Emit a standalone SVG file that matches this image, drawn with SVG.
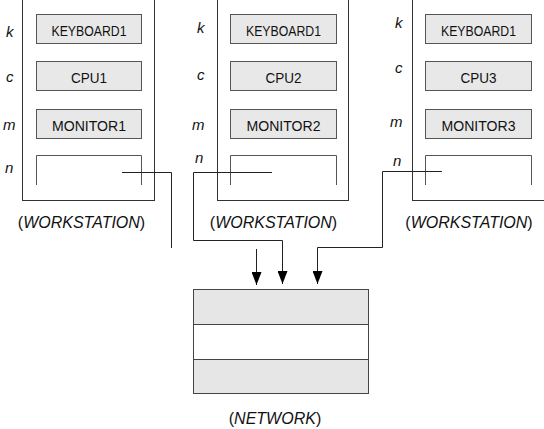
<svg xmlns="http://www.w3.org/2000/svg" width="544" height="429" viewBox="0 0 544 429">
<style>
.outer{fill:none;stroke:#333;stroke-width:1}
.box{fill:#e8e8e8;stroke:#555;stroke-width:1}
.slot{fill:none;stroke:#555;stroke-width:1}
.var{font-family:"Liberation Sans",Arial,sans-serif;font-style:italic;font-size:15px;fill:#111}
.lbl{font-family:"Liberation Sans",Arial,sans-serif;font-size:14px;fill:#111;text-anchor:middle}
.cap{font-family:"Liberation Sans",Arial,sans-serif;font-size:16px;fill:#111;text-anchor:middle}
.it{font-style:italic}
.conn{fill:none;stroke:#222;stroke-width:1}
.band{fill:#e6e6e6;stroke:#444;stroke-width:1}
.bandw{fill:#fff;stroke:#444;stroke-width:1}
</style>
<defs>
<marker id="ah" markerUnits="userSpaceOnUse" markerWidth="13" markerHeight="10" refX="13" refY="5" orient="auto" viewBox="0 0 13 10">
<path d="M0,0 L13,5 L0,10 Z" fill="#000"/>
</marker>
</defs>
<rect width="544" height="429" fill="#fff"/>

<g id="ws1">
<rect class="outer" x="22.5" y="-5" width="132" height="205.5"/>
<text class="var" x="6" y="37">k</text>
<text class="var" x="6" y="82">c</text>
<text class="var" x="3" y="130">m</text>
<text class="var" x="5" y="173">n</text>
<rect class="box" x="36.5" y="14.5" width="105" height="29"/>
<text class="lbl" x="89" y="36" textLength="75" lengthAdjust="spacingAndGlyphs">KEYBOARD1</text>
<rect class="box" x="36.5" y="61.5" width="105" height="29"/>
<text class="lbl" x="89" y="83" textLength="36" lengthAdjust="spacingAndGlyphs">CPU1</text>
<rect class="box" x="36.5" y="109.5" width="105" height="29"/>
<text class="lbl" x="89" y="131" textLength="74" lengthAdjust="spacingAndGlyphs">MONITOR1</text>
<path class="slot" d="M36.5 185 V155.5 H141.5 V185"/>
<text class="cap" x="81.5" y="228">(<tspan class="it">WORKSTATION</tspan>)</text>
</g>

<g id="ws2">
<rect class="outer" x="217.5" y="-5" width="131" height="205.5"/>
<text class="var" x="197" y="33">k</text>
<text class="var" x="197" y="80">c</text>
<text class="var" x="192" y="130">m</text>
<text class="var" x="195" y="163">n</text>
<rect class="box" x="230.5" y="14.5" width="106" height="29"/>
<text class="lbl" x="283.5" y="36" textLength="75" lengthAdjust="spacingAndGlyphs">KEYBOARD1</text>
<rect class="box" x="230.5" y="61.5" width="106" height="29"/>
<text class="lbl" x="283.5" y="83" textLength="36" lengthAdjust="spacingAndGlyphs">CPU2</text>
<rect class="box" x="230.5" y="109.5" width="106" height="29"/>
<text class="lbl" x="283.5" y="131" textLength="74" lengthAdjust="spacingAndGlyphs">MONITOR2</text>
<path class="slot" d="M230.5 185 V155.5 H336.5 V185"/>
<text class="cap" x="273.5" y="228">(<tspan class="it">WORKSTATION</tspan>)</text>
</g>

<g id="ws3">
<rect class="outer" x="412.5" y="-5" width="140" height="205.5"/>
<text class="var" x="395" y="28">k</text>
<text class="var" x="395" y="73">c</text>
<text class="var" x="390" y="127">m</text>
<text class="var" x="393" y="166">n</text>
<rect class="box" x="425.5" y="14.5" width="106" height="29"/>
<text class="lbl" x="478.5" y="36" textLength="75" lengthAdjust="spacingAndGlyphs">KEYBOARD1</text>
<rect class="box" x="425.5" y="61.5" width="106" height="29"/>
<text class="lbl" x="478.5" y="83" textLength="36" lengthAdjust="spacingAndGlyphs">CPU3</text>
<rect class="box" x="425.5" y="109.5" width="106" height="29"/>
<text class="lbl" x="478.5" y="131" textLength="74" lengthAdjust="spacingAndGlyphs">MONITOR3</text>
<path class="slot" d="M425.5 185 V155.5 H531.5 V185"/>
<text class="cap" x="469" y="228">(<tspan class="it">WORKSTATION</tspan>)</text>
</g>

<g id="network">
<rect class="band" x="193.5" y="289.5" width="175" height="35"/>
<rect class="bandw" x="193.5" y="324.5" width="175" height="35"/>
<rect class="band" x="193.5" y="359.5" width="175" height="34"/>
<text class="cap" x="275" y="424">(<tspan class="it">NETWORK</tspan>)</text>
</g>

<g id="connectors">
<path class="conn" d="M122 172.5 H171.5 V248"/>
<path class="conn" d="M256.5 249 V285" marker-end="url(#ah)"/>
<path class="conn" d="M272 172.5 H193.5 V240.5 H282.5 V284" marker-end="url(#ah)"/>
<path class="conn" d="M442 171.5 H382.5 V247.5 H317.5 V284" marker-end="url(#ah)"/>
</g>
</svg>
